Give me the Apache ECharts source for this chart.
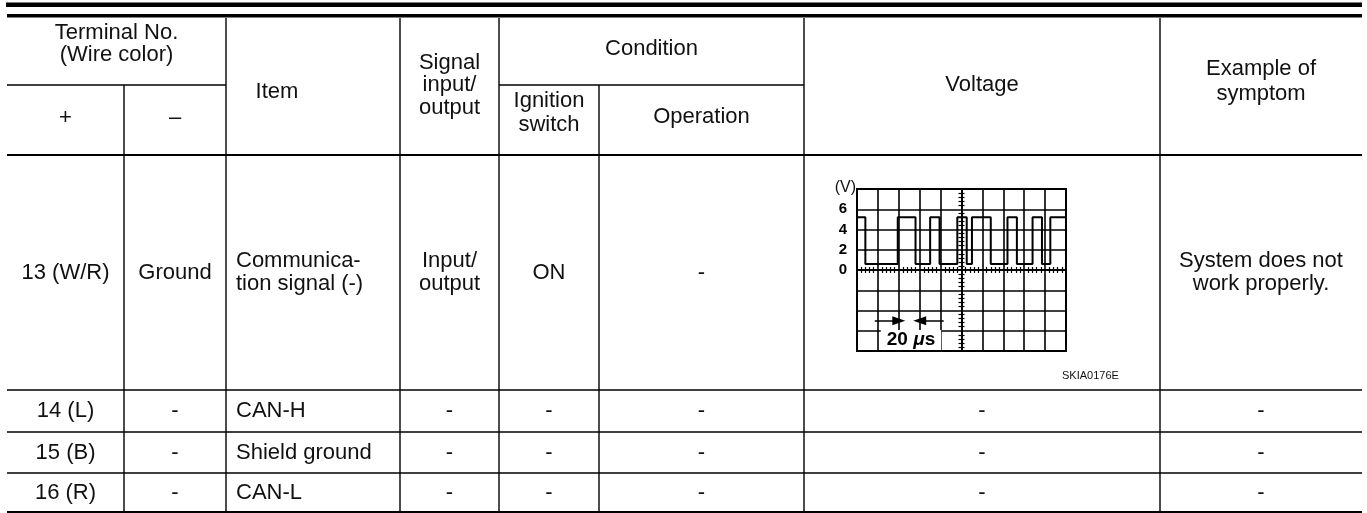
<!DOCTYPE html>
<html><head><meta charset="utf-8">
<script src="https://cdn.jsdelivr.net/npm/echarts@6/dist/echarts.min.js"></script>
<style>html,body{margin:0;padding:0;background:#fff}#c{width:1367px;height:513px}</style>
</head><body><div id="c"></div>
<script>
// ---- table content ----
const headTerminal = 'Terminal No.\n(Wire color)';
const headPlus = '+';
const headMinus = '\u2013';
const headItem = 'Item';
const headSignal = 'Signal\ninput/\noutput';
const headCondition = 'Condition';
const headIgnition = 'Ignition\nswitch';
const headOperation = 'Operation';
const headVoltage = 'Voltage';
const headSymptom = 'Example of\nsymptom';

const terminals = ['13 (W/R)', '14 (L)', '15 (B)', '16 (R)'];
const grounds   = ['Ground', '-', '-', '-'];
const items     = ['Communica-\ntion signal (-)', 'CAN-H', 'Shield ground', 'CAN-L'];
const signals   = ['Input/\noutput', '-', '-', '-'];
const ignitions = ['ON', '-', '-', '-'];
const operations= ['-', '-', '-', '-'];
const voltages  = [null, '-', '-', '-'];
const symptoms  = ['System does not\nwork properly.', '-', '-', '-'];

// ---- oscilloscope waveform (time in µs relative to screen centre, volts) ----
const edgeTimes  = [-100, -92, -61, -44, -30, -21, -4, 5, 10, 28, 44, 53, 68, 77, 85, 100];
const edgeLevels = [5.2, 0.6, 5.2, 0.6, 5.2, 0.6, 5.2, 0.6, 5.2, 0.6, 5.2, 0.6, 5.2, 0.6, 5.2, 5.2];
const voltTickLabels = ['0', '2', '4', '6'];
const divLabel = '20';
const scopeCode = 'SKIA0176E';

// ---- layout (pixels) ----
const FONT = '"Liberation Sans", Arial, Helvetica, sans-serif';
const FS = 22, LH = 23;
const colX = [7, 124, 226, 400, 499, 599, 804, 1160, 1362];
const yTop = 18, yHeadMid = 85, yHeadBot = 155;
const rowY = [155, 390, 432, 473, 512];

const g = [];
function hline(x1, x2, y, w) { g.push({type:'line', silent:true, shape:{x1, y1:y, x2, y2:y}, style:{stroke:'#000', lineWidth:w||1.4}}); }
function vline(x, y1, y2, w) { g.push({type:'line', silent:true, shape:{x1:x, y1, x2:x, y2}, style:{stroke:'#000', lineWidth:w||1.4}}); }
function txt(s, x, y, align, extra) {
  if (s == null) return;
  g.push({type:'text', silent:true, style:Object.assign({text:s, x, y, align:align||'center', verticalAlign:'middle',
    fontFamily:FONT, fontSize:FS, lineHeight:LH, fill:'#111'}, extra||{})});
}
// top double rule
g.push({type:'rect', silent:true, shape:{x:6, y:2.5, width:1356, height:4.5}, style:{fill:'#000'}});
g.push({type:'rect', silent:true, shape:{x:7, y:14, width:1355, height:3.6}, style:{fill:'#000'}});
// header lines
hline(colX[0], colX[2], yHeadMid);
hline(colX[4], colX[6], yHeadMid);
hline(colX[0], colX[8], yHeadBot, 2);
for (let i = 1; i < rowY.length; i++) hline(colX[0], colX[8], rowY[i], i === rowY.length - 1 ? 2 : 1.6);
// verticals
const yEnd = rowY[rowY.length-1];
vline(colX[1], yHeadMid, yEnd);
vline(colX[2], yTop, yEnd);
vline(colX[3], yTop, yEnd);
vline(colX[4], yTop, yEnd);
vline(colX[5], yHeadMid, yEnd);
vline(colX[6], yTop, yEnd);
vline(colX[7], yTop, yEnd);

const cx = i => (colX[i] + colX[i+1]) / 2;
// header text
txt(headTerminal, (colX[0]+colX[2])/2, 44, 'center', {lineHeight:22});
txt(headPlus, cx(0), 118);
txt(headMinus, cx(1), 118);
txt(headItem, 277, 92);
txt(headSignal, cx(3), 85, 'center', {lineHeight:22.5});
txt(headCondition, (colX[4]+colX[6])/2, 49);
txt(headIgnition, cx(4), 113, 'center', {lineHeight:24});
txt(headOperation, cx(5), 117);
txt(headVoltage, cx(6), 85);
txt(headSymptom, cx(7), 81, 'center', {lineHeight:25});
// body
for (let r = 0; r < terminals.length; r++) {
  const y = (rowY[r] + rowY[r+1]) / 2;
  txt(terminals[r], cx(0), y);
  txt(grounds[r], cx(1), y);
  txt(items[r], colX[2] + 10, y, 'left');
  txt(signals[r], cx(3), y);
  txt(ignitions[r], cx(4), y);
  txt(operations[r], cx(5), y);
  txt(voltages[r], cx(6), y);
  txt(symptoms[r], cx(7), y);
}
// scope annotations
txt('(V)', 856, 188, 'right', {fontSize:16, lineHeight:18});
txt(scopeCode, 1062, 376, 'left', {fontSize:11, lineHeight:13});
g.push({type:'text', silent:true, z:100, style:{
  text:'{b|' + divLabel + ' }{m|\u03bc}{b|s}', x:911, y:340, align:'center', verticalAlign:'middle',
  backgroundColor:'#fff', padding:[0,6,0,6],
  rich:{b:{fontFamily:FONT, fontSize:19, lineHeight:20, fontWeight:'bold', fill:'#000'},
        m:{fontFamily:FONT, fontSize:19, lineHeight:20, fontWeight:'bold', fontStyle:'italic', fill:'#000'}}
}});

const waveData = edgeTimes.map((t, i) => [t, edgeLevels[i]]);
const ax = {color:'#000', width:1.6};
const mt = {show:true, splitNumber:5, length:3, lineStyle:{color:'#000', width:1.2}};
const chart = echarts.init(document.getElementById('c'), null, {renderer:'canvas'});
chart.setOption({
  animation:false,
  backgroundColor:'#fff',
  grid:{left:857, top:189, width:209, height:162, show:true, borderColor:'#000', borderWidth:2, backgroundColor:'transparent'},
  xAxis:[
    {type:'value', min:-100, max:100, interval:20, position:'bottom',
     axisLine:{show:true, onZero:true, lineStyle:ax}, axisTick:{show:false}, axisLabel:{show:false},
     minorTick:mt, splitLine:{show:true, lineStyle:{color:'#000', width:1.6}}},
    {type:'value', min:-100, max:100, interval:20, position:'top',
     axisLine:{show:true, onZero:true, lineStyle:ax}, axisTick:{show:false}, axisLabel:{show:false},
     minorTick:mt, splitLine:{show:false}}
  ],
  yAxis:[
    {type:'value', min:-8, max:8, interval:2, position:'left',
     axisLine:{show:false, onZero:false}, axisTick:{show:false},
     axisLabel:{show:true, margin:10, color:'#000', fontFamily:FONT, fontSize:15, fontWeight:'bold',
       formatter:v => voltTickLabels.indexOf(String(v)) >= 0 ? String(v) : ''},
     splitLine:{show:true, lineStyle:{color:'#000', width:1.6}}},
    {type:'value', min:-8, max:8, interval:2, position:'left',
     axisLine:{show:true, onZero:true, lineStyle:ax}, axisTick:{show:false}, axisLabel:{show:false},
     minorTick:mt, splitLine:{show:false}},
    {type:'value', min:-8, max:8, interval:2, position:'right',
     axisLine:{show:true, onZero:true, lineStyle:ax}, axisTick:{show:false}, axisLabel:{show:false},
     minorTick:mt, splitLine:{show:false}}
  ],
  series:[{
    type:'line', xAxisIndex:0, yAxisIndex:0, step:'end', data:waveData, symbol:'none', silent:true,
    lineStyle:{color:'#000', width:2}, z:5,
    markLine:{silent:true, symbol:['none','triangle'], symbolSize:[9,13], animation:false,
      label:{show:false}, lineStyle:{color:'#000', width:1.5, type:'solid'},
      data:[[{coord:[-83,-5]},{coord:[-60,-5]}],[{coord:[-17,-5]},{coord:[-40,-5]}]]}
  }],
  graphic:g
});
</script></body></html>
